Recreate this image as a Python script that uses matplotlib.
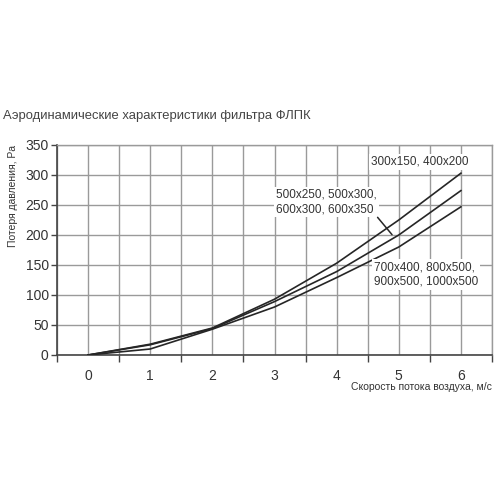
import matplotlib
matplotlib.use("Agg")
import matplotlib.pyplot as plt
from matplotlib.ticker import MultipleLocator

# Data
speed = [0, 1, 2, 3, 4, 5, 6]
loss_small = [0, 18, 45, 93, 153, 225, 303]   # 300x150, 400x200
loss_mid = [0, 17, 44, 89, 139, 200, 274]     # 500x250 ... 600x350
loss_large = [0, 10, 43, 80, 129, 180, 247]   # 700x400 ... 1000x500
x_ticks = [0, 1, 2, 3, 4, 5, 6]
y_ticks = [0, 50, 100, 150, 200, 250, 300, 350]

title = "Аэродинамические характеристики фильтра ФЛПК"
ylabel = "Потеря давления, Pa"
xlabel = "Скорость потока воздуха, м/с"
lab_small = "300x150, 400x200"
lab_mid = "500x250, 500x300,\n600x300, 600x350"
lab_large = "700x400, 800x500,\n900x500, 1000x500"

plt.rcParams['font.family'] = ['Liberation Sans', 'DejaVu Sans']

fig = plt.figure(figsize=(5, 5), dpi=100)
ax = fig.add_axes([0.114, 0.29, 0.87, 0.42])

grid_c = '#9a9a9a'
line_c = '#262626'
text_c = '#333333'

ax.set_xlim(-0.5, 6.5)
ax.set_ylim(0, 350)
ax.xaxis.set_major_locator(MultipleLocator(1))
ax.xaxis.set_minor_locator(MultipleLocator(0.5))
ax.set_xticks(x_ticks)
ax.set_yticks(y_ticks)
ax.grid(True, which='both', axis='x', color=grid_c, lw=1.0, zorder=0)
ax.grid(True, which='major', axis='y', color=grid_c, lw=1.0, zorder=0)
ax.set_axisbelow(True)

ax.tick_params(axis='x', which='major', length=0, pad=10, labelsize=10, labelcolor=text_c)
ax.tick_params(axis='x', which='minor', length=5, width=1, color='#444444', direction='out')
ax.tick_params(axis='y', which='major', length=4.5, width=1, color='#444444', pad=1.5,
               labelsize=10, labelcolor=text_c)

for s in ['left', 'bottom']:
    ax.spines[s].set_color('#444444')
    ax.spines[s].set_linewidth(1.2)
for s in ['top', 'right']:
    ax.spines[s].set_color(grid_c)
    ax.spines[s].set_linewidth(1.0)

ax.plot(speed, loss_small, color=line_c, lw=1.2, zorder=3)
ax.plot(speed, loss_mid, color=line_c, lw=1.2, zorder=3)
ax.plot(speed, loss_large, color=line_c, lw=1.2, zorder=3)

bb = dict(facecolor='white', edgecolor='none', pad=1.5)
ax.text(4.55, 322, lab_small, fontsize=8.5, color=text_c, ha='left', va='center',
        bbox=bb, zorder=4)
ax.text(3.02, 255, lab_mid, fontsize=8.5, color=text_c, ha='left', va='center',
        linespacing=1.25, bbox=bb, zorder=4)
ax.text(4.6, 134, lab_large, fontsize=8.5, color=text_c, ha='left', va='center',
        linespacing=1.25, bbox=bb, zorder=4)
ax.annotate('', xy=(4.92, 197), xytext=(4.63, 233),
            arrowprops=dict(arrowstyle='-', color=line_c, lw=1.1), zorder=5)

fig.text(0.006, 0.768, title, fontsize=9.4, color='#444444', ha='left', va='center')
fig.text(0.027, 0.71, ylabel, fontsize=7.5, color=text_c, rotation=90,
         ha='center', va='top')
fig.text(0.984, 0.226, xlabel, fontsize=7.5, color=text_c, ha='right', va='center')

fig.savefig('out.png', dpi=100, facecolor='white')
